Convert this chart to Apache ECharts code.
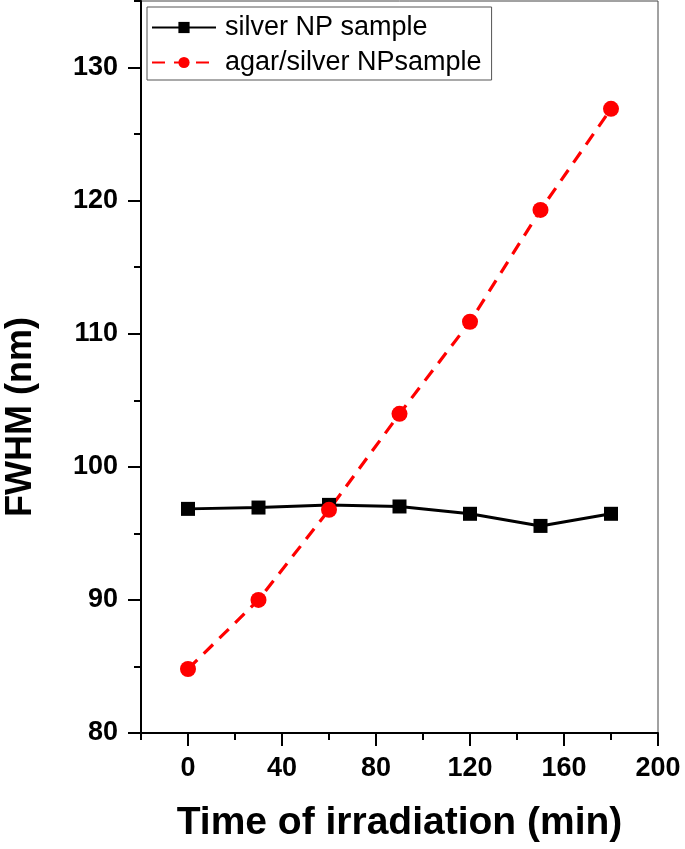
<!DOCTYPE html>
<html><head><meta charset="utf-8">
<script src="https://cdn.jsdelivr.net/npm/echarts@6/dist/echarts.min.js"></script>
<style>html,body{margin:0;padding:0;background:#fff}#c{width:685px;height:849px}</style>
</head><body><div id="c"></div>
<script>
var times = [0, 30, 60, 90, 120, 150, 180];
var silverNP = [96.84, 96.94, 97.14, 97.02, 96.47, 95.56, 96.47];
var agarSilverNP = [84.81, 90.0, 96.77, 103.98, 110.9, 119.3, 126.9];
var seriesNames = ['silver NP sample', 'agar/silver NPsample'];
var xTickValues = ['-20','0','20','40','60','80','100','120','140','160','180','200'];
var yTickValues = ['80','85','90','95','100','105','110','115','120','125','130','135'];
var xTitle = 'Time of irradiation (min)';
var yTitle = 'FWHM (nm)';

var FONT = '"Liberation Sans", Arial, Helvetica, sans-serif';
function pairs(xs, ys){ return xs.map(function(x,i){return [x, ys[i]];}); }

var chart = echarts.init(document.getElementById('c'), null, {renderer:'canvas'});
chart.setOption({
  backgroundColor: '#fff',
  animation: false,
  grid: {left: 141, right: 27, top: 1, bottom: 116, show: true, borderColor: '#444', borderWidth: 1,
    backgroundColor: 'transparent', containLabel: false, outerBoundsMode: 'none'},
  legend: {
    orient: 'vertical', left: 147, top: 7,
    padding: [7, 10, 4, 4], itemGap: 8, itemWidth: 64, itemHeight: 14,
    borderColor: '#555', borderWidth: 1, backgroundColor: '#fff',
    textStyle: {fontFamily: FONT, fontSize: 27, color: '#000', lineHeight: 25, padding: [0,0,0,4]},
    data: seriesNames
  },
  xAxis: [{
    type: 'value', min: -20, max: 200, interval: 20,
    name: xTitle, nameLocation: 'middle', nameGap: 71,
    nameTextStyle: {fontFamily: FONT, fontSize: 39, fontWeight: 'bold', color: '#000'},
    axisLine: {show: true, onZero: false, lineStyle: {color: '#000', width: 2}},
    axisTick: {show: true, inside: false, length: 7, lineStyle: {color: '#000', width: 2}},
    axisLabel: {margin: 22, fontFamily: FONT, fontSize: 27, fontWeight: 'bold', color: '#000',
      formatter: function(v){ return (v % 40 === 0) ? String(v) : ''; }},
    splitLine: {show: false}
  }, {
    type: 'category', data: xTickValues, boundaryGap: false, position: 'bottom',
    axisLine: {show: false, onZero: false},
    axisTick: {show: true, inside: false, length: 13, lineStyle: {color: '#000', width: 2},
      interval: function(i){ return i % 2 === 1; }},
    axisLabel: {show: false}, splitLine: {show: false}
  }],
  yAxis: [{
    type: 'value', min: 80, max: 135, interval: 5,
    name: yTitle, nameLocation: 'middle', nameGap: 102, nameRotate: 90,
    nameTextStyle: {fontFamily: FONT, fontSize: 36, fontWeight: 'bold', color: '#000', padding: [0, 100, 0, 0]},
    axisLine: {show: true, onZero: false, lineStyle: {color: '#000', width: 2}},
    axisTick: {show: true, inside: false, length: 7, lineStyle: {color: '#000', width: 2}},
    axisLabel: {margin: 23, fontFamily: FONT, fontSize: 27, fontWeight: 'bold', color: '#000',
      formatter: function(v){ return (v % 10 === 0 && v <= 130) ? String(v) : ''; }},
    splitLine: {show: false}
  }, {
    type: 'category', data: yTickValues, boundaryGap: false, position: 'left',
    axisLine: {show: false, onZero: false},
    axisTick: {show: true, inside: false, length: 13, lineStyle: {color: '#000', width: 2},
      interval: function(i){ return i % 2 === 0 && i < 11; }},
    axisLabel: {show: false}, splitLine: {show: false}
  }],
  series: [{
    name: seriesNames[0], type: 'line', xAxisIndex: 0, yAxisIndex: 0,
    data: pairs(times, silverNP),
    symbol: 'rect', symbolSize: 14,
    lineStyle: {color: '#000', width: 3},
    itemStyle: {color: '#000'}
  }, {
    name: seriesNames[1], type: 'line', xAxisIndex: 0, yAxisIndex: 0,
    data: pairs(times, agarSilverNP),
    symbol: 'circle', symbolSize: 16,
    lineStyle: {color: '#ff0000', width: 3.2, type: [13, 9]},
    itemStyle: {color: '#ff0000'}
  }]
});
</script></body></html>
